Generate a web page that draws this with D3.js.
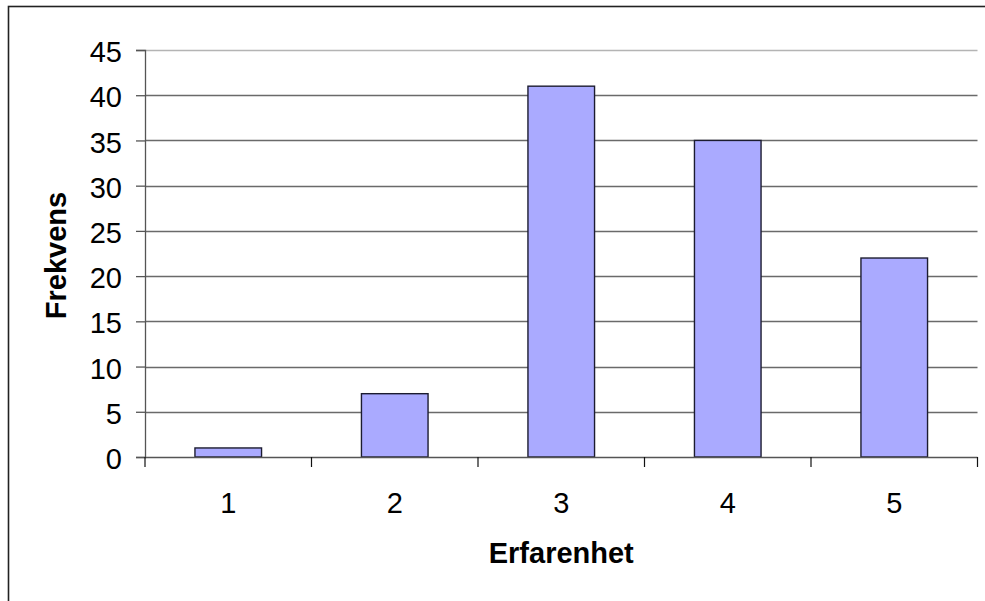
<!DOCTYPE html>
<html>
<head>
<meta charset="utf-8">
<script src="https://cdn.jsdelivr.net/npm/d3@7"></script>
<style>
  html, body { margin: 0; padding: 0; background: #fff; }
  svg { display: block; }
  text { font-family: "Liberation Sans", Arial, sans-serif; fill: #000; }
</style>
</head>
<body>
<svg id="chart" width="985" height="601"></svg>
<script>
// Experience level (1-5) and how many respondents gave each
const categories = ["1", "2", "3", "4", "5"];
const frequencies = [1, 7, 41, 35, 22];
const yTicks = [0, 5, 10, 15, 20, 25, 30, 35, 40, 45];
const xTitle = "Erfarenhet";
const yTitle = "Frekvens";

const FONT = 29;
const svg = d3.select("#chart");
const plot = { left: 145, right: 977.5, top: 50, bottom: 457 };

// Outer frame of the chart
svg.append("rect")
  .attr("x", 8.5).attr("y", 6.5)
  .attr("width", 1000).attr("height", 620)
  .attr("fill", "none").attr("stroke", "#222").attr("stroke-width", 1.6);

const x = d3.scaleBand()
  .domain(categories)
  .range([plot.left, plot.right])
  .paddingInner(0.6)
  .paddingOuter(0.3);

const y = d3.scaleLinear()
  .domain([0, 45])
  .range([plot.bottom, plot.top]);

// Horizontal gridlines
svg.append("g")
  .selectAll("line")
  .data(yTicks.filter(d => d > 0))
  .join("line")
  .attr("x1", plot.left).attr("x2", plot.right)
  .attr("y1", d => Math.round(y(d)) + 0.5)
  .attr("y2", d => Math.round(y(d)) + 0.5)
  .attr("stroke", d => d === 45 ? "#b4b4b4" : "#6a6a6a")
  .attr("stroke-width", 1.3);

// Bars
svg.append("g")
  .selectAll("rect")
  .data(categories.map((c, i) => ({ c, v: frequencies[i] })))
  .join("rect")
  .attr("x", d => x(d.c))
  .attr("y", d => y(d.v))
  .attr("width", x.bandwidth())
  .attr("height", d => y(0) - y(d.v))
  .attr("fill", "#aaaaff")
  .attr("stroke", "#1c1c30")
  .attr("stroke-width", 1.4);

// Y axis
const yAxis = d3.axisLeft(y)
  .tickValues(yTicks)
  .tickSize(9)
  .tickPadding(14)
  .tickFormat(d3.format("d"));
const gy = svg.append("g")
  .attr("transform", `translate(${plot.left},0)`)
  .call(yAxis);
gy.select(".domain").attr("stroke", "#555").attr("stroke-width", 1.3);
gy.selectAll(".tick line").attr("stroke", "#555").attr("stroke-width", 1.3);
gy.selectAll(".tick text")
  .attr("font-size", FONT)
  .attr("dy", "0.4em")
  .style("font-family", '"Liberation Sans", Arial, sans-serif');

// X axis line and category separators
const step = x.step();
const boundaries = d3.range(categories.length + 1).map(i => plot.left + i * step);
const gx = svg.append("g");
gx.append("line")
  .attr("x1", plot.left).attr("x2", plot.right)
  .attr("y1", plot.bottom + 0.5).attr("y2", plot.bottom + 0.5)
  .attr("stroke", "#555").attr("stroke-width", 1.3);
gx.selectAll("line.sep")
  .data(boundaries)
  .join("line")
  .attr("class", "sep")
  .attr("x1", d => d).attr("x2", d => d)
  .attr("y1", plot.bottom).attr("y2", plot.bottom + 10)
  .attr("stroke", "#111").attr("stroke-width", 1.2);
gx.selectAll("text")
  .data(categories)
  .join("text")
  .attr("x", d => x(d) + x.bandwidth() / 2)
  .attr("y", 512.5)
  .attr("text-anchor", "middle")
  .attr("font-size", FONT)
  .text(d => d);

// Axis titles
svg.append("text")
  .attr("x", (plot.left + plot.right) / 2)
  .attr("y", 563)
  .attr("text-anchor", "middle")
  .attr("font-size", FONT)
  .attr("font-weight", "bold")
  .text(xTitle);

svg.append("text")
  .attr("transform", `translate(65.5,${(plot.top + plot.bottom) / 2 + 2}) rotate(-90)`)
  .attr("text-anchor", "middle")
  .attr("font-size", FONT)
  .attr("font-weight", "bold")
  .text(yTitle);
</script>
</body>
</html>
